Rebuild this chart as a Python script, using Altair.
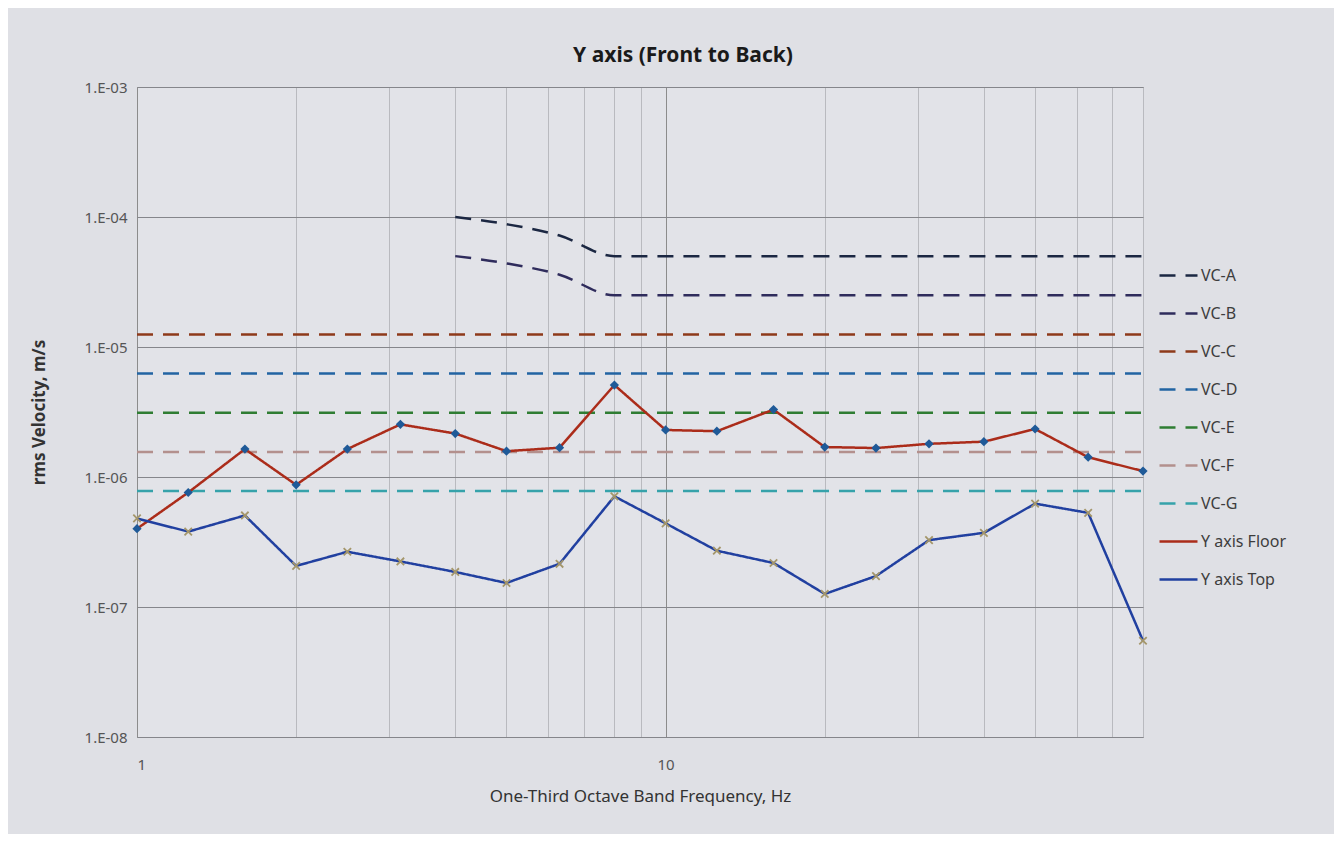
import altair as alt
import pandas as pd

freqs = [1, 1.25, 1.6, 2, 2.5, 3.15, 4, 5, 6.3, 8, 10, 12.5, 16, 20, 25, 31.5, 40, 50, 63, 80]
floor_vals = [4.0e-7, 7.6e-7, 1.64e-6, 8.7e-7, 1.64e-6, 2.54e-6, 2.16e-6, 1.58e-6, 1.68e-6, 5.1e-6,
              2.3e-6, 2.25e-6, 3.3e-6, 1.7e-6, 1.67e-6, 1.8e-6, 1.87e-6, 2.34e-6, 1.42e-6, 1.11e-6]
top_vals = [4.8e-7, 3.8e-7, 5.06e-7, 2.07e-7, 2.66e-7, 2.24e-7, 1.86e-7, 1.53e-7, 2.15e-7, 7.1e-7,
            4.4e-7, 2.71e-7, 2.18e-7, 1.26e-7, 1.73e-7, 3.27e-7, 3.72e-7, 6.24e-7, 5.3e-7, 5.5e-8]

# VC-A / VC-B curves (start at 4 Hz)
vc_curve_freqs = [4, 5, 6.3, 8, 10, 12.5, 16, 20, 25, 31.5, 40, 50, 63, 80]
vc_a_vals = [1.0e-4, 8.8e-5, 7.2e-5, 5.0e-5, 5.0e-5, 5.0e-5, 5.0e-5, 5.0e-5, 5.0e-5, 5.0e-5, 5.0e-5, 5.0e-5, 5.0e-5, 5.0e-5]
vc_b_vals = [5.0e-5, 4.4e-5, 3.6e-5, 2.5e-5, 2.5e-5, 2.5e-5, 2.5e-5, 2.5e-5, 2.5e-5, 2.5e-5, 2.5e-5, 2.5e-5, 2.5e-5, 2.5e-5]

# flat criteria VC-C .. VC-G
vc_flat_names = ["VC-C", "VC-D", "VC-E", "VC-F", "VC-G"]
vc_flat_levels = [1.25e-5, 6.25e-6, 3.12e-6, 1.56e-6, 7.8e-7]
vc_flat_span = [1, 80]

series_names = ["VC-A", "VC-B", "VC-C", "VC-D", "VC-E", "VC-F", "VC-G", "Y axis Floor", "Y axis Top"]
series_colors = ["#1b2742", "#2f2c5c", "#8e3a1a", "#2264a2", "#2f7d33", "#b3908d", "#36a2aa", "#ab2c1a", "#2140a0"]
series_dash = [[16, 10]] * 7 + [[1, 0], [1, 0]]

y_ticks = [1e-8, 1e-7, 1e-6, 1e-5, 1e-4, 1e-3]
x_grid = [1, 2, 3, 4, 5, 6, 7, 8, 9, 10, 20, 30, 40, 50, 60, 70, 80]

# ---- tables ----
curve_rows = []
for f, a, b in zip(vc_curve_freqs, vc_a_vals, vc_b_vals):
    curve_rows.append({"f": f, "v": a, "s": "VC-A"})
    curve_rows.append({"f": f, "v": b, "s": "VC-B"})
curve_df = pd.DataFrame(curve_rows)

flat_rows = []
for n, lv in zip(vc_flat_names, vc_flat_levels):
    for f in vc_flat_span:
        flat_rows.append({"f": f, "v": lv, "s": n})
for f, fl, tp in zip(freqs, floor_vals, top_vals):
    flat_rows.append({"f": f, "v": fl, "s": "Y axis Floor"})
    flat_rows.append({"f": f, "v": tp, "s": "Y axis Top"})
lines_df = pd.DataFrame(flat_rows)

floor_df = pd.DataFrame({"f": freqs, "v": floor_vals})
top_df = pd.DataFrame({"f": freqs, "v": top_vals})

x_scale = alt.Scale(type="log", domain=[1, 80], nice=False)
y_scale = alt.Scale(type="log", domain=[1e-8, 1e-3], nice=False)

x_axis = alt.Axis(
    title="One-Third Octave Band Frequency, Hz",
    values=x_grid,
    labelExpr="datum.value == 1 || datum.value == 10 ? datum.value : ''",
    ticks=False, domain=False,
    grid=True,
    gridColor={"condition": {"test": "datum.value == 1 || datum.value == 10", "value": "#8c8c8c"}, "value": "#b9babf"},
    gridWidth=1,
    labelFontSize=15, labelColor="#555555", labelPadding=20, labelFont="Noto Sans",
    titleFontSize=17, titleColor="#333333", titleFont="Noto Sans", titleFontWeight="normal", titlePadding=16,
)
y_axis = alt.Axis(
    title="rms Velocity, m/s",
    values=y_ticks,
    labelExpr="'1.E-0' + round(-log(datum.value) / LN10)",
    ticks=False, domain=False,
    grid=True, gridColor="#85868b", gridWidth=1,
    labelFontSize=15, labelColor="#555555", labelPadding=10, labelFont="Noto Sans",
    titleFontSize=17, titleColor="#333333", titleFont="Noto Sans", titleFontWeight="bold", titlePadding=36,
)

color_enc = alt.Color("s:N", scale=alt.Scale(domain=series_names, range=series_colors),
                      legend=alt.Legend(title=None))
dash_enc = alt.StrokeDash("s:N", scale=alt.Scale(domain=series_names, range=series_dash),
                          legend=alt.Legend(title=None))

base_x = alt.X("f:Q", scale=x_scale, axis=x_axis)
base_y = alt.Y("v:Q", scale=y_scale, axis=y_axis)

curves = alt.Chart(curve_df).mark_line(interpolate="monotone", strokeWidth=2.5).encode(
    x=base_x, y=base_y, color=color_enc, strokeDash=dash_enc, detail="s:N")
lines = alt.Chart(lines_df).mark_line(strokeWidth=2.5).encode(
    x=alt.X("f:Q", scale=x_scale), y=alt.Y("v:Q", scale=y_scale),
    color=color_enc, strokeDash=dash_enc, detail="s:N")
floor_pts = alt.Chart(floor_df).mark_point(shape="diamond", filled=True, size=85, color="#1f5a98", opacity=1).encode(
    x=alt.X("f:Q", scale=x_scale), y=alt.Y("v:Q", scale=y_scale))
top_pts = alt.Chart(top_df).mark_point(shape="M-1,-1L1,1M-1,1L1,-1", size=55, color="#a4966a",
                                       strokeWidth=1.8, opacity=1, filled=False).encode(
    x=alt.X("f:Q", scale=x_scale), y=alt.Y("v:Q", scale=y_scale))

chart = alt.layer(curves, lines, floor_pts, top_pts).properties(
    width=1006, height=650,
    title=alt.TitleParams("Y axis (Front to Back)", fontSize=21, fontWeight="bold", font="Noto Sans",
                          color="#1a1a1a", anchor="middle", dx=43, offset=14),
    autosize=alt.AutoSizeParams(type="none"),
    padding={"left": 129, "top": 79, "right": 191, "bottom": 97},
    background="#dfe0e5",
).configure_view(
    stroke="#8c8c8c", fill="#e2e3e8"
).configure_legend(
    orient="none", legendX=1021, legendY=168, padding=0,
    symbolType="stroke", symbolSize=1444, symbolStrokeWidth=2.5,
    labelFontSize=16, labelColor="#3d3d3d", labelFont="Noto Sans", labelOffset=2,
    rowPadding=9, labelLimit=200,
)

chart.save("out.html", embed_options={"renderer": "svg", "actions": False})
